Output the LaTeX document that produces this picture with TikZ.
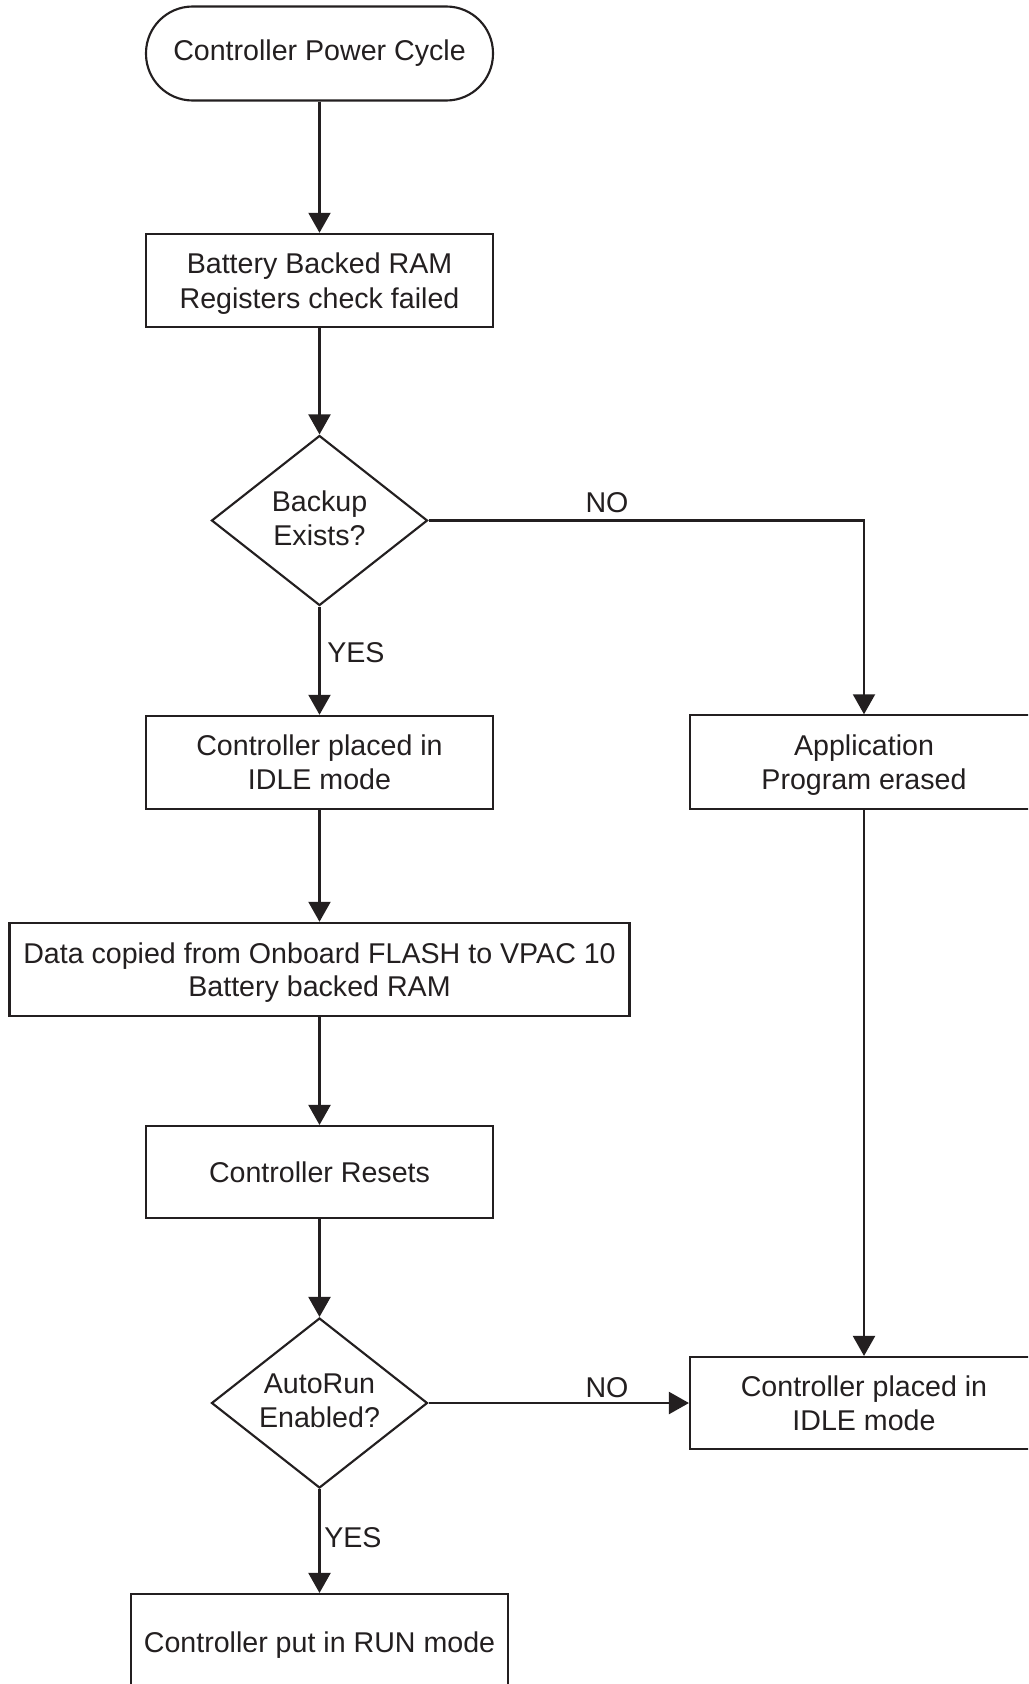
\documentclass[tikz,border=0pt]{standalone}
\usepackage{fontspec}
\setmainfont{Liberation Sans}
\usetikzlibrary{shapes.geometric,arrows.meta}
\definecolor{ink}{HTML}{231F20}
\newcommand\figfont{\fontsize{21.45}{25.8}\selectfont}
\newcommand\figfonttight{\fontsize{21.45}{24.2}\selectfont}
\newcommand\nodepth[1]{\raisebox{0pt}[\height][0pt]{#1}}
\newcommand\lowstrut{\rule[-3.2pt]{0pt}{3.2pt}}
\begin{document}
\begin{tikzpicture}[x=0.75pt,y=-0.75pt,
  box/.style={draw=ink, line width=1.6pt, rectangle, minimum width=260.25pt, minimum height=70pt, align=center, inner sep=0pt, text=ink, font=\figfont},
  term/.style={box, minimum height=70.5pt, rounded corners=35pt},
  dec/.style={diamond, draw=ink, line width=1.6pt, minimum width=162pt, minimum height=127.5pt, aspect=1.27, inner sep=0pt, align=center, text=ink, font=\figfont},
  arr/.style={draw=ink, line width=1.6pt, -{Triangle[length=15pt,width=16.5pt]}},
  lbl/.style={text=ink, font=\figfont, inner sep=0pt}]
\useasboundingbox (0,0) rectangle (1028,1684);
\fill[white] (0,0) rectangle (1028,1684);
\clip (0,0) rectangle (1028,1684);

\node[term] (start) at (319.5,53.5) {Controller Power Cycle};
\node[box] (bram) at (319.5,280.5) {Battery Backed RAM\\\nodepth{Registers check failed}};
\node[dec] (d1) at (319.5,520.5) {Backup\\Exists?\lowstrut};
\node[box] (idle1) at (319.5,762.5) {Controller placed in\\IDLE mode};
\node[box, minimum width=261pt] (app) at (864,762) {Application\\\nodepth{Program erased}};
\node[box, minimum width=465pt, font=\figfonttight] (data) at (319.5,969.5) {Data copied from Onboard FLASH to VPAC 10\\\nodepth{Battery backed RAM}};
\node[box, minimum height=69pt] (resets) at (319.5,1172) {Controller Resets};
\node[dec] (d2) at (319.5,1403) {AutoRun\\Enabled?\lowstrut};
\node[box, minimum width=261pt, minimum height=69pt] (idle2) at (864,1403) {Controller placed in\\IDLE mode};
\node[box, minimum width=282.75pt, minimum height=72pt] (run) at (319.5,1642) {\nodepth{Controller put in RUN mode}};

\draw[arr] (start) -- (bram);
\draw[arr] (bram) -- (d1);
\draw[arr] (d1.south) -- (idle1.north);
\draw[arr] (d1.east) -| (app.north);
\draw[arr] (idle1) -- (data);
\draw[arr] (data) -- (resets);
\draw[arr] (resets) -- (d2.north);
\draw[arr] (app) -- (idle2);
\draw[arr] (d2.east) -- (idle2.west);
\draw[arr] (d2.south) -- (run.north);

\node[lbl] (no1) at (607,503) {NO};
\node[lbl, anchor=west] (yes1) at (327,653) {YES};
\node[lbl] (no2) at (607,1388) {NO};
\node[lbl, anchor=west] (yes2) at (324,1538) {YES};
\end{tikzpicture}
\end{document}
